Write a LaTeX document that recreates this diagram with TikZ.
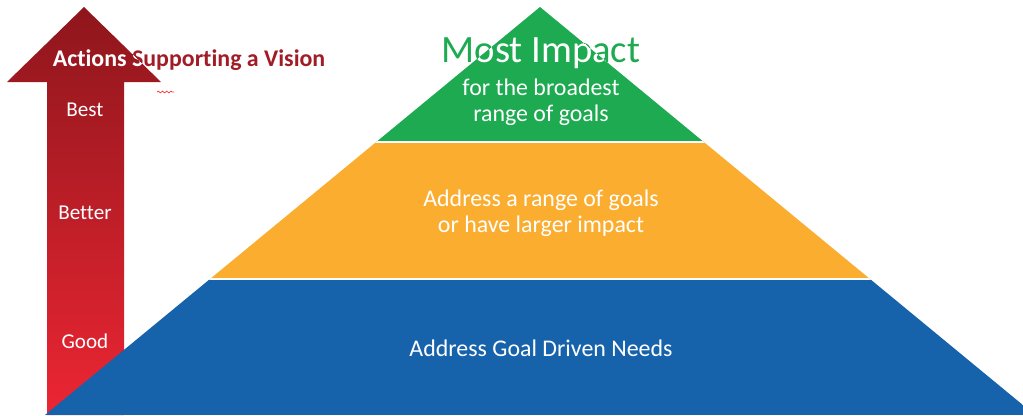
\documentclass[tikz,border=0pt]{standalone}
\usepackage{fontspec}
\setmainfont{Carlito}[Ligatures=NoCommon]
\usepackage{xcolor}
\usepackage{tikz}
\usetikzlibrary{positioning,calc,decorations.pathmorphing}

\definecolor{arrowtop}{HTML}{8E161C}
\definecolor{arrowbot}{HTML}{EC2633}
\definecolor{titlered}{HTML}{A11D26}
\definecolor{pyrgreen}{HTML}{1DAA50}
\definecolor{pyrorange}{HTML}{FBAD30}
\definecolor{pyrblue}{HTML}{1763AB}

\tikzset{
  lbl/.style={text=white, font=\fontsize{15}{17}\selectfont, align=center},
  pyrtext/.style={text=white, font=\fontsize{17}{18.5}\selectfont, align=center},
  titletext/.style={font=\bfseries\fontsize{17}{19}\selectfont},
  bigtext/.style={font=\fontsize{27.5}{30}\selectfont}
}

\begin{document}
\begin{tikzpicture}[x=0.025cm,y=-0.025cm]
    \useasboundingbox (0,0) rectangle (1023,415);
    % arrow on the left
    \def\arrowpath{(84,7) -- (161,82) -- (124,82) -- (124,415) -- (47,415) -- (47,82) -- (7,82) -- cycle}
    \shade[top color=arrowtop, bottom color=arrowbot] \arrowpath;
    \node[lbl] (best) at (85,110) {Best};
    \node[lbl] (better) at (85,213) {Better};
    \node[lbl] (good) at (85,341) {Good};
    % title, white where it lies on the arrow
    \node[titletext, text=titlered] (title) at (189,60) {Actions Supporting a Vision};
    \begin{scope}
        \clip \arrowpath;
        \node[titletext, text=white] (titlew) at (title) {Actions Supporting a Vision};
    \end{scope}
    \draw[red!80, line width=0.5pt, decorate, decoration={snake, amplitude=0.6pt, segment length=3pt}] (157,92) -- (174,92);
    % pyramid
    \begin{scope}
        \clip (540,7) -- (1035,415) -- (45,415) -- cycle;
        \fill[pyrgreen] (0,0) rectangle (1023,142);
        \fill[pyrorange] (0,142) rectangle (1023,279);
        \fill[pyrblue] (0,279) rectangle (1023,415);
        \draw[white, line width=1.3pt] (0,142) -- (1023,142);
        \draw[white, line width=1.3pt] (0,279) -- (1023,279);
    \end{scope}
    \node[bigtext, text=pyrgreen] (most) at (541,53) {Most Impact};
    \begin{scope}
        \clip (540,7) -- (1035,415) -- (45,415) -- cycle;
        \node[bigtext, text=white] (mostw) at (most) {Most Impact};
    \end{scope}
    \node[pyrtext] (top) at (541,102.5) {for the broadest\\range of goals};
    \node[pyrtext] (mid) at (541,213) {Address a range of goals\\or have larger impact};
    \node[pyrtext] (base) at (541,348) {Address Goal Driven Needs};
\end{tikzpicture}
\end{document}
